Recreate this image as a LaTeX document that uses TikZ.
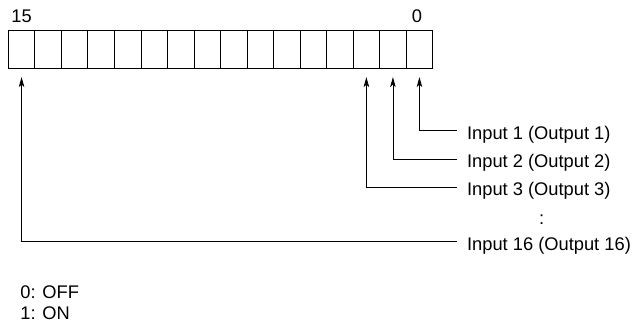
\documentclass[tikz,border=0pt]{standalone}
\usepackage{fontspec}
\setmainfont{Liberation Sans}
\usetikzlibrary{arrows.meta,positioning}

\tikzset{
  bitbox/.style={rectangle, draw, minimum width=26.525pt, minimum height=38pt, inner sep=0pt},
  bitlabel/.style={anchor=west, inner xsep=10pt, inner ysep=0pt, text height=18pt, text depth=0pt},
  elbow/.style={shorten >=8pt, to path={-| (\tikztotarget)}}
}

\begin{document}
\begin{tikzpicture}[x=1pt,y=1pt,->,>={Stealth[length=10pt,width=5.5pt,inset=2.5pt]},
    line width=0.8pt,
    every node/.append style={font=\fontsize{18.3}{22}\selectfont}]

  \useasboundingbox (0,0) rectangle (633,-336);

  % register
  \foreach \i in {0,...,15}
    \node[bitbox] (bit\i) at ({432.7-(\i+0.5)*26.525},-49.7) {};

  \node[above=7pt of bit15, inner sep=0pt] (msb) {15};
  \node[above=7pt of bit0, xshift=-2.5pt, inner sep=0pt] (lsb) {0};

  \node[bitlabel] (in1) at (456.7,-130.3) {Input 1 (Output 1)};
  \node[bitlabel] (in2) at (456.7,-159) {Input 2 (Output 2)};
  \node[bitlabel] (in3) at (456.7,-187) {Input 3 (Output 3)};
  \node (dots) at (541.7,-220) {:};
  \node[bitlabel] (in16) at (456.7,-241.7) {Input 16 (Output 16)};

  \node[anchor=base west, inner sep=0pt] (off) at (20,-299) {0: OFF};
  \node[anchor=base west, inner sep=0pt] (on) at (20,-320) {1: ON};

  \path
  (in1.west) edge [elbow] (bit0.south)
  (in2.west) edge [elbow] (bit1.south)
  (in3.west) edge [elbow] (bit2.south)
  (in16.west) edge [elbow] (bit15.south);

\end{tikzpicture}
\end{document}
